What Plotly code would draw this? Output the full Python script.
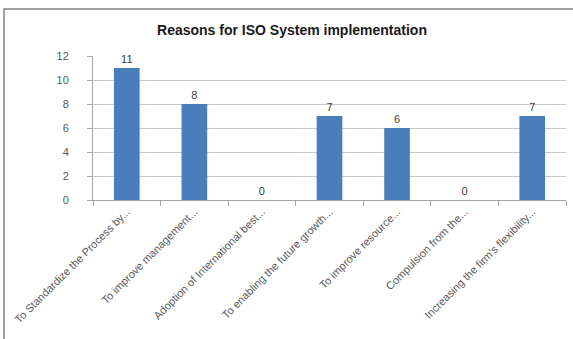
import plotly.graph_objects as go

categories = [
    "To Standardize the Process by...",
    "To improve management...",
    "Adoption of International best...",
    "To enabling the future growth...",
    "To improve resource...",
    "Compulsion from the...",
    "Increasing the firm's flexibility...",
]
values = [11, 8, 0, 7, 6, 0, 7]
y_ticks = [0, 2, 4, 6, 8, 10, 12]

W, H = 573, 339
L, R, T, B = 93, 7, 56, 139
PW, PH = W - L - R, H - T - B

fig = go.Figure(
    go.Bar(
        x=categories,
        y=values,
        marker=dict(color="#4a7ebb", line=dict(width=0)),
        width=0.38,
        text=[str(v) for v in values],
        textposition="outside",
        textfont=dict(family="Liberation Sans, Arial", size=11, color="#404040"),
        cliponaxis=False,
    )
)

fig.update_layout(
    width=W,
    height=H,
    margin=dict(l=L, r=R, t=T, b=B),
    paper_bgcolor="white",
    plot_bgcolor="white",
    showlegend=False,
    title=dict(
        text="<b>Reasons for ISO System implementation</b>",
        font=dict(family="Liberation Sans, Arial", size=14, color="#1a1a1a"),
        x=292 / W,
        xref="container",
        xanchor="center",
        y=1 - 30 / H,
        yref="container",
        yanchor="middle",
    ),
    xaxis=dict(
        type="category",
        tickangle=-45,
        ticks="outside",
        tickson="boundaries",
        ticklen=5,
        tickcolor="#a6a6a6",
        showline=True,
        linecolor="#a6a6a6",
        showgrid=False,
        tickfont=dict(family="Liberation Sans, Arial", size=11, color="#595959"),
    ),
    yaxis=dict(
        range=[0, 12],
        tickvals=y_ticks,
        ticks="outside",
        ticklen=5,
        tickcolor="#a6a6a6",
        showline=True,
        linecolor="#a6a6a6",
        showgrid=True,
        gridcolor="#c8c8c8",
        gridwidth=1,
        zeroline=False,
        ticklabelstandoff=16,
        tickfont=dict(family="Liberation Sans, Arial", size=11, color="#595959"),
    ),
    shapes=[
        dict(
            type="rect",
            xref="paper", yref="paper",
            x0=-(L - 4) / PW, x1=1 + (R + 20) / PW,
            y0=-(B + 20) / PH, y1=1 + (T - 9) / PH,
            line=dict(color="#a0a0a0", width=2),
            fillcolor="rgba(0,0,0,0)",
            layer="below",
        )
    ],
)

fig.write_html("out.html")
